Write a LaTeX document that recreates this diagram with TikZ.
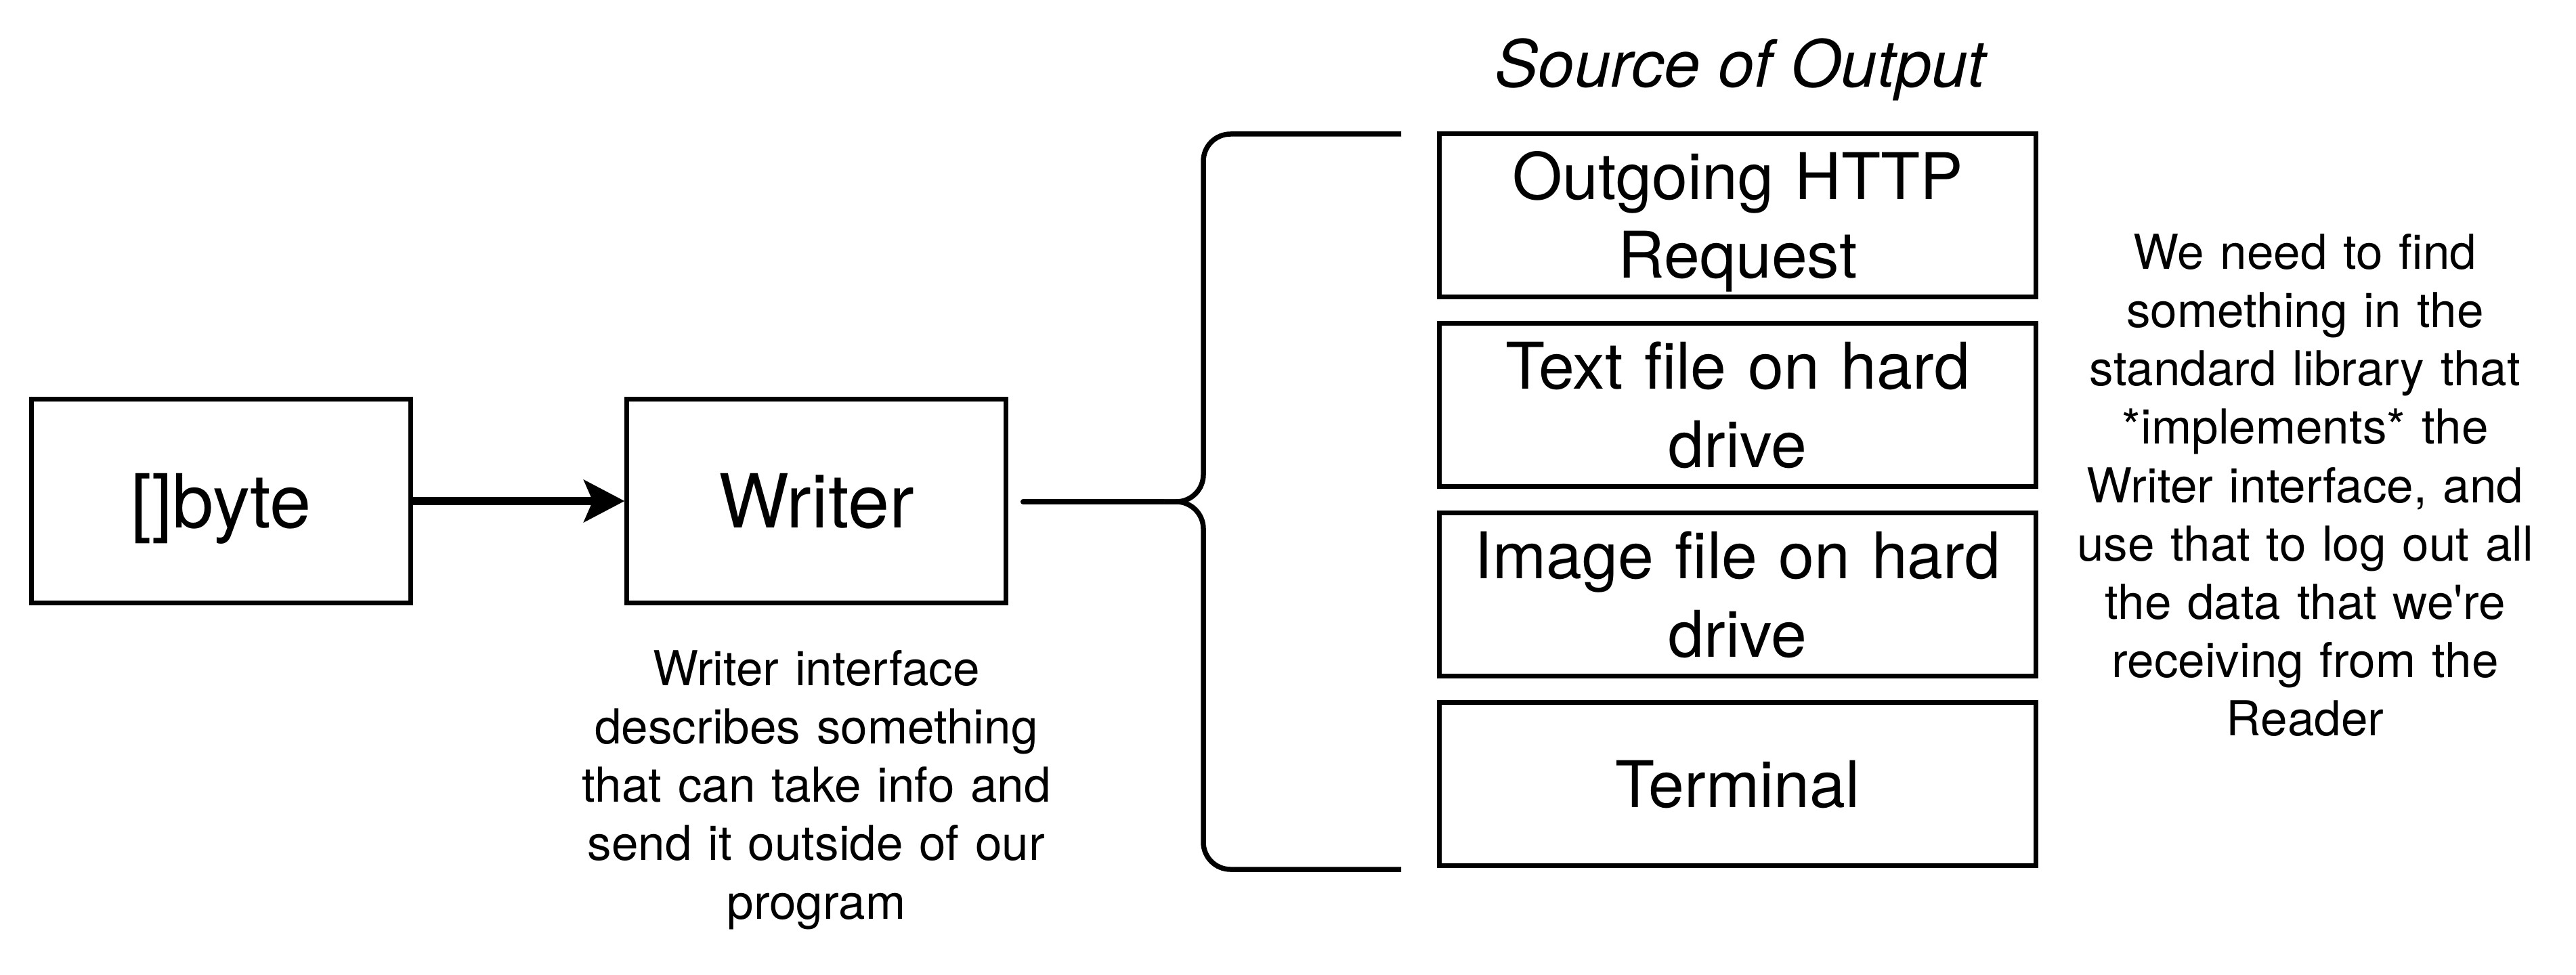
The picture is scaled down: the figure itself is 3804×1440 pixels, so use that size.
\documentclass[tikz,border=0pt]{standalone}
\usepackage{fontspec}
\setmainfont{TeX Gyre Heros}
\usetikzlibrary{arrows.meta,calc}
\newcommand{\fontNote}{\fontsize{20.2pt}{24.47pt}\selectfont}
\newcommand{\fontBoxTxt}{\fontsize{27.03pt}{33.0pt}\selectfont}
\newcommand{\fontBig}{\fontsize{31.3pt}{37.6pt}\selectfont}
\newcommand{\fontTitle}{\fontsize{27.3pt}{33pt}\selectfont\itshape}
\tikzset{
  bigbox/.style={draw, line width=0.07cm, inner sep=0pt, minimum width=5.59cm, minimum height=3.0cm,
    font=\fontBig, text height=0.792cm, text depth=0cm},
  srcbox/.style={draw, line width=0.07cm, inner sep=0pt, minimum width=8.8cm, minimum height=2.4cm,
    text width=8.6cm, align=center, font=\fontBoxTxt, text height=0.684cm, text depth=0cm},
  note/.style={inner sep=0pt, align=center, font=\fontNote, text height=0.511cm, anchor=north},
  arrowline/.style={line width=0.11cm, -{Stealth[length=0.6cm, width=0.62cm, inset=0.13cm]}},
  braceline/.style={line width=0.075cm, rounded corners=0.4cm},
  conn/.style={line width=0.075cm, line cap=round}
}
\begin{document}
\begin{tikzpicture}[x=0.01cm, y=-0.01cm]
\fill[white] (0,0) rectangle (3804,1440);
\useasboundingbox (0,0) rectangle (3804,1440);

% left boxes
\node[bigbox] (b) at (326.5,740) {[]byte};
\node[bigbox] (w) at (1205.5,740) {Writer};
\draw[arrowline] (b.east) -- (w.west);

% note under Writer
\node[note, text width=7.6cm, text depth=3.44cm] (wn) at (1205.5,961)
  {Writer interface\\describes something\\that can take info and\\send it outside of our\\program};

% title
\node[font=\fontTitle, inner sep=0pt, anchor=base] (title) at (2570,129) {Source of Output};

% source boxes
\node[srcbox, text depth=1.16cm] (o1) at (2566,318) {Outgoing HTTP\\Request};
\node[srcbox, text depth=1.16cm] (o2) at (2566,598) {Text file on hard\\drive};
\node[srcbox, text depth=1.16cm] (o3) at (2566,878) {Image file on hard\\drive};
\node[srcbox] (o4) at (2566,1158) {Terminal};

% curly brace
\coordinate (tip) at (1717,741);
\coordinate (wout) at ($(w.east)+(22,1)$);
\draw[braceline] (2069,198) -- (1777,198) -- (1777,741) -- (tip);
\draw[braceline] (2069,1284) -- (1777,1284) -- (1777,741) -- (tip);
\draw[conn] (wout) -- (tip);

% right note
\node[note, text width=7.4cm, text depth=6.88cm] (rn) at (3404,346)
  {We need to find\\something in the\\standard library that\\\relax*implements* the\\Writer interface, and\\use that to log out all\\the data that we\textquotesingle re\\receiving from the\\Reader};
\end{tikzpicture}
\end{document}
